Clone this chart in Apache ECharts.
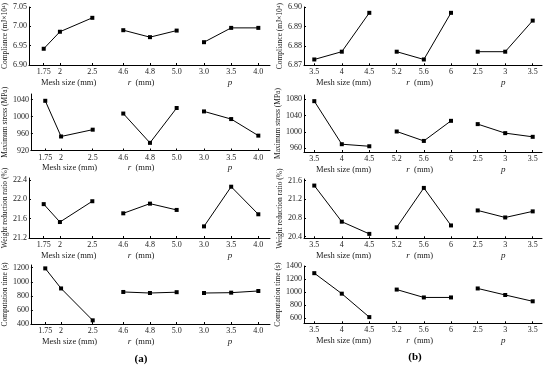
<!DOCTYPE html>
<html><head><meta charset="utf-8">
<script src="https://cdn.jsdelivr.net/npm/echarts@6/dist/echarts.min.js"></script>
<style>html,body{margin:0;padding:0;background:#fff}#c{width:550px;height:365px}</style>
</head><body><div id="c"></div>
<script>
// ---- x tick labels (per group) ----
const meshA = ['1.75', '2', '2.5'];
const rA = ['4.6', '4.8', '5.0'];
const pA = ['3.0', '3.5', '4.0'];
const meshB = ['3.5', '4', '4.5'];
const rB = ['5.2', '5.6', '6'];
const pB = ['2.5', '3', '3.5'];

// ---- series values (mesh x3, r x3, p x3) ----
const complianceA = [6.942, 6.986, 7.022, 6.990, 6.972, 6.989, 6.959, 6.996, 6.996];
const stressA = [1037, 953, 969, 1007, 938, 1020, 1012, 994, 955];
const weightA = [21.90, 21.53, 21.96, 21.71, 21.91, 21.78, 21.44, 22.26, 21.69];
const timeA = [1190, 905, 452, 855, 840, 852, 840, 845, 869];
const complianceB = [6.873, 6.877, 6.897, 6.877, 6.873, 6.897, 6.877, 6.877, 6.893];
const stressB = [1075, 970, 965, 1001, 978, 1027, 1019, 997, 988];
const weightB = [21.49, 20.72, 20.46, 20.60, 21.44, 20.64, 20.96, 20.81, 20.94];
const timeB = [1290, 975, 615, 1038, 917, 917, 1055, 955, 858];

// ---- y tick labels ----
const complianceATicks = ['6.90', '6.95', '7.00', '7.05'];
const stressATicks = ['920', '960', '1000', '1040'];
const weightATicks = ['21.2', '21.6', '22.0', '22.4'];
const timeATicks = ['400', '600', '800', '1000', '1200'];
const complianceBTicks = ['6.87', '6.88', '6.89', '6.90'];
const stressBTicks = ['960', '1000', '1040', '1080'];
const weightBTicks = ['20.4', '20.8', '21.2', '21.6'];
const timeBTicks = ['600', '800', '1000', '1200', '1400'];

const yNames = ['Compliance (mJ×10⁴)', 'Maximum stress (MPa)', 'Weight reduction ratio (%)', 'Computation time (s)'];
const xNames = ['Mesh size (mm)', '{i|r}  (mm)', '{i|p}'];
const panelLabels = ['(a)', '(b)'];

// ---- layout (pixels) and axis ranges ----
const layoutA = {
  xEdges: [29, 108.2, 190, 270],
  xRanges: [[1.523, 2.745], [4.487, 5.100], [2.742, 4.215]],
  rows: [
    { top: 7, axis: 65, min: 6.90, max: 7.05 },
    { top: 94, axis: 150.5, min: 920, max: 1053 },
    { top: 178, axis: 238, min: 21.2, max: 22.44 },
    { top: 265, axis: 324, min: 400, max: 1238 }
  ],
  nameX: 8, labelX: 141, labelY: 359
};
const layoutB = {
  xEdges: [304, 383, 464.3, 542],
  xRanges: [[3.313, 4.749], [4.998, 6.196], [2.256, 3.669]],
  rows: [
    { top: 7, axis: 65.3, min: 6.87, max: 6.90 },
    { top: 95, axis: 152, min: 951, max: 1090 },
    { top: 179, axis: 238.3, min: 20.366, max: 21.63 },
    { top: 266, axis: 323.3, min: 520, max: 1400 }
  ],
  nameX: 283, labelX: 415, labelY: 357
};

const panels = [
  { layout: layoutA, xTicks: [meshA, rA, pA], rows: [complianceA, stressA, weightA, timeA],
    yTicks: [complianceATicks, stressATicks, weightATicks, timeATicks], rNamePad: 16 },
  { layout: layoutB, xTicks: [meshB, rB, pB], rows: [complianceB, stressB, weightB, timeB],
    yTicks: [complianceBTicks, stressBTicks, weightBTicks, timeBTicks], rNamePad: 8 }
];

const font = 'Liberation Serif';
const txt = '#1a1a1a';
function fmtMap(list) {
  return v => { for (const s of list) if (Math.abs(parseFloat(s) - v) < 1e-9) return s; return ''; };
}

const grids = [], xAxes = [], yAxes = [], series = [], graphics = [];
panels.forEach((P, pi) => {
  const L = P.layout;
  P.rows.forEach((vals, ri) => {
    const R = L.rows[ri];
    for (let g = 0; g < 3; g++) {
      const idx = grids.length;
      grids.push({ left: L.xEdges[g], top: R.top, width: L.xEdges[g + 1] - L.xEdges[g], height: R.axis - R.top });
      const xt = P.xTicks[g];
      const xv = xt.map(parseFloat);
      xAxes.push({
        gridIndex: idx, type: 'value', min: L.xRanges[g][0], max: L.xRanges[g][1],
        axisLine: { onZero: false, lineStyle: { color: '#000', width: 1 } },
        axisTick: { inside: true, length: 2, customValues: xv, lineStyle: { color: '#000' } },
        axisLabel: { customValues: xv, formatter: fmtMap(xt), fontSize: 8, fontFamily: font, color: txt, margin: 3 },
        splitLine: { show: false },
        name: xNames[g], nameLocation: 'middle', nameGap: 13,
        nameTextStyle: {
          fontSize: 8.5, fontFamily: font, color: txt,
          padding: g === 1 ? [0, P.rNamePad, 0, 0] : 0,
          rich: { i: { fontStyle: 'italic', fontSize: 9, fontFamily: font, color: txt } }
        }
      });
      if (g === 0) {
        const yt = P.yTicks[ri];
        const yv = yt.map(parseFloat);
        yAxes.push({
          gridIndex: idx, type: 'value', min: R.min, max: R.max,
          axisLine: { show: true, onZero: false, lineStyle: { color: '#000', width: 1 } },
          axisTick: { show: true, inside: true, length: 2, customValues: yv, lineStyle: { color: '#000' } },
          axisLabel: { customValues: yv, formatter: fmtMap(yt), fontSize: 8, fontFamily: font, color: txt, margin: 2 },
          splitLine: { show: false },
          name: yNames[ri], nameLocation: 'middle', nameGap: L.xEdges[0] - L.nameX - 4,
          nameTextStyle: { fontSize: 7.5, fontFamily: font, color: txt }
        });
      } else {
        yAxes.push({ gridIndex: idx, type: 'value', min: R.min, max: R.max, show: false, splitLine: { show: false } });
      }
      series.push({
        type: 'line', xAxisIndex: idx, yAxisIndex: idx,
        data: xv.map((x, k) => [x, vals[g * 3 + k]]),
        symbol: 'rect', symbolSize: 4, showSymbol: true,
        lineStyle: { color: '#000', width: 1 }, itemStyle: { color: '#000' },
        silent: true, animation: false
      });
    }
  });
  graphics.push({
    type: 'text', x: L.labelX, y: L.labelY,
    style: { text: panelLabels[pi], font: 'bold 11px "Liberation Serif"', fill: '#000', textAlign: 'center', textVerticalAlign: 'middle' }
  });
});

const chart = echarts.init(document.getElementById('c'), null, { renderer: 'canvas' });
chart.setOption({
  backgroundColor: '#fff',
  animation: false,
  grid: grids, xAxis: xAxes, yAxis: yAxes, series: series, graphic: graphics
});
</script></body></html>
